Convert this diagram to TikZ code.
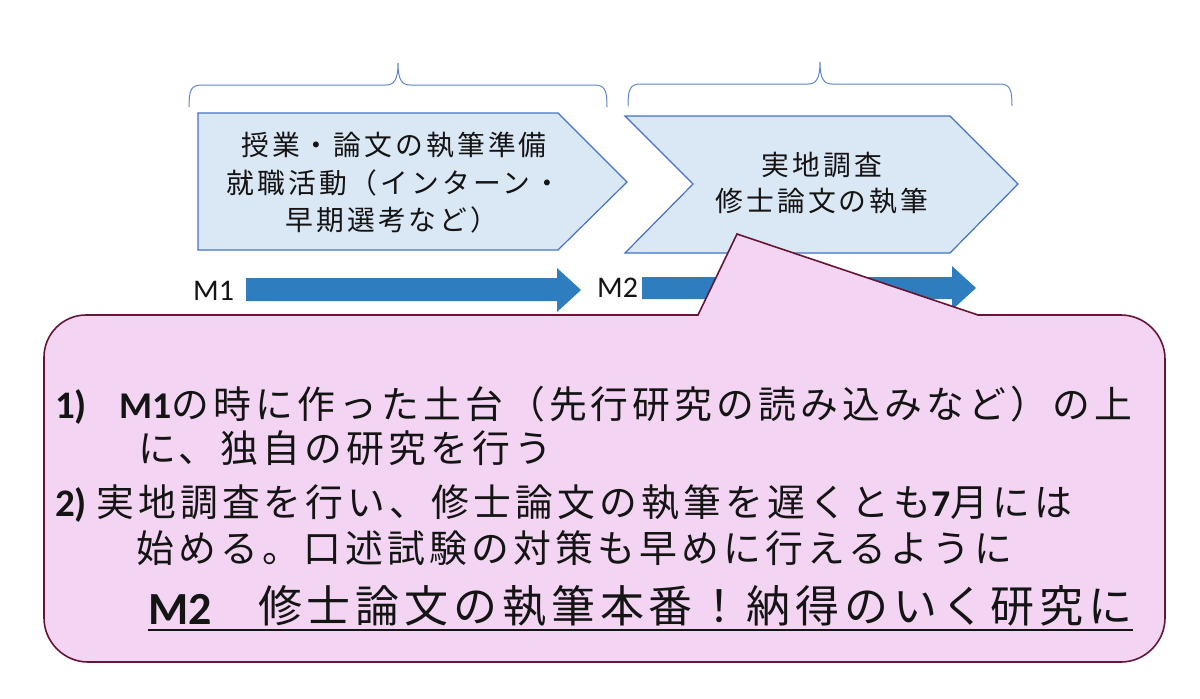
\documentclass[tikz,border=0pt]{standalone}
\usepackage{fontspec}
\usetikzlibrary{calc}
\newfontfamily\jp{Noto Sans CJK JP}[LetterSpace=11]
\newfontfamily\lat{Carlito}
\newfontfamily\latb{Carlito Bold}
\definecolor{chevfill}{RGB}{218,232,245}
\definecolor{chevline}{RGB}{68,114,196}
\definecolor{bracecol}{RGB}{95,135,205}
\definecolor{arrowcol}{RGB}{46,125,190}
\definecolor{callfill}{RGB}{243,213,243}
\definecolor{callline}{RGB}{100,22,52}
\definecolor{ink}{RGB}{20,20,20}
\tikzset{
  chev/.style={fill=chevfill,draw=chevline,line width=1.2pt,line join=miter},
  bracestyle/.style={draw=bracecol,line width=1pt},
  blockarrow/.style={fill=arrowcol,draw=none},
  callout/.style={fill=callfill,draw=callline,line width=1.6pt,line join=miter},
  chevtext/.style={anchor=base,inner sep=0pt,text=ink,font={\jp\fontsize{27.8}{31}\selectfont}},
  bodytext/.style={anchor=base west,inner sep=0pt,text=ink,font={\jp\fontsize{37.8}{42}\selectfont}},
  numtext/.style={anchor=base west,inner sep=0pt,text=ink,font={\latb\fontsize{39}{43}\selectfont}},
  mlabel/.style={anchor=base west,inner sep=0pt,text=ink,font={\lat\fontsize{30}{34}\selectfont}},
}
\begin{document}
\begin{tikzpicture}[x=1pt,y=-1pt]
\useasboundingbox (0,0) rectangle (1200,699);
\fill[white] (0,0) rectangle (1200,699);

% braces
\draw[bracestyle] (189,107) .. controls (189,90) and (191,85) .. (202,85)
  -- (386,85) .. controls (394,85) and (398,80) .. (398,63)
  .. controls (398,80) and (402,85) .. (410,85)
  -- (594,85) .. controls (605,85) and (607,90) .. (607,107);
\draw[bracestyle] (628,106) .. controls (628,89) and (630,84) .. (641,84)
  -- (808,84) .. controls (816,84) and (820,79) .. (820,62)
  .. controls (820,79) and (824,84) .. (832,84)
  -- (999,84) .. controls (1010,84) and (1012,89) .. (1012,106);

% chevrons
\draw[chev] (198,113) -- (558,113) -- (627,182) -- (558,250) -- (198,250) -- cycle;
\draw[chev] (625,116) -- (950,116) -- (1018,184) -- (950,253) -- (625,253) -- (693,184) -- cycle;

\node[chevtext] (c1a) at (394,155) {授業・論文の執筆準備};
\node[chevtext] (c1b) at (394,193) {就職活動（インターン・};
\node[chevtext] (c1c) at (392,230) {早期選考など）};
\node[chevtext] (c2a) at (822,175) {実地調査};
\node[chevtext] (c2b) at (822,211) {修士論文の執筆};

% block arrows
\fill[blockarrow] (246,278) -- (557,278) -- (557,268) -- (581,290) -- (557,312) -- (557,301) -- (246,301) -- cycle;
\fill[blockarrow] (642,277) -- (952,277) -- (952,266) -- (976,288) -- (952,310) -- (952,299) -- (642,299) -- cycle;
\node[mlabel] (m1) at (193,300) {M1};
\node[mlabel] (m2) at (597,297) {M2};

% callout
\draw[callout] (86,315) -- (698,315) -- (737,234) -- (978,315) -- (1121,315)
  .. controls (1145,315) and (1165,335) .. (1165,359)
  -- (1165,618) .. controls (1165,642) and (1145,662) .. (1121,662)
  -- (88,662) .. controls (64,662) and (44,642) .. (44,618)
  -- (44,357) .. controls (44,334) and (63,315) .. (86,315) -- cycle;

% callout text
\node[numtext] (n1) at (55,418) {1)};
\node[bodytext] (l1) at (119,418) {{\latb M1}の時に作った土台（先行研究の読み込みなど）の上};
\node[bodytext] (l2) at (138,462) {に、独自の研究を行う};
\node[numtext] (n2) at (55,516) {2)};
\node[bodytext] (l3) at (96,516) {実地調査を行い、修士論文の執筆を遅くとも{\latb 7}月には};
\node[bodytext] (l4) at (136,562) {始める。口述試験の対策も早めに行えるように};
\node[anchor=base west,inner sep=0pt,text=ink,font={\latb\fontsize{46}{50}\selectfont}] (l5a) at (148,624) {M2};
\node[anchor=base west,inner sep=0pt,text=ink,font={\jp\fontsize{44}{48}\selectfont}] (l5b) at (258,622) {修士論文の執筆本番！納得のいく研究に};
\draw[ink,line width=2.4pt] ($(l5a.base west)+(0,6)$) -- ($(l5b.base east)+(0,8)$);
\end{tikzpicture}
\end{document}
